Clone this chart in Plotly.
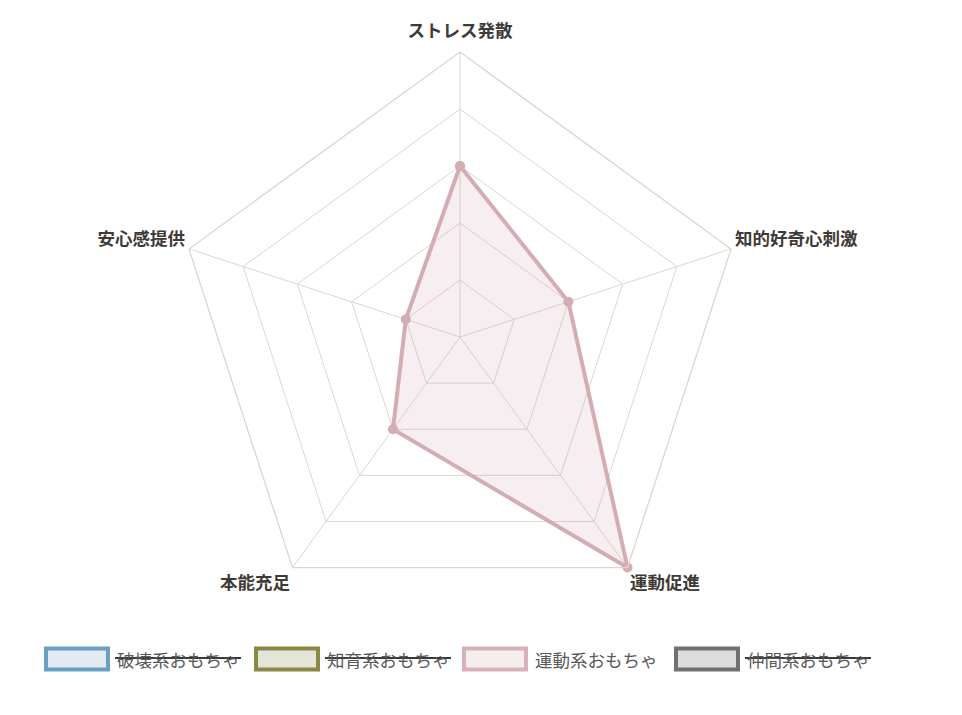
import plotly.graph_objects as go

# axes of the radar
categories = ["ストレス発散", "知的好奇心刺激", "運動促進", "本能充足", "安心感提供"]
# only the visible dataset (運動系おもちゃ) is drawn
undou_values = [3, 2, 5, 2, 1]

# legend entries (hidden ones are struck through, like chart.js)
legend_names = ["破壊系おもちゃ", "知育系おもちゃ", "運動系おもちゃ", "仲間系おもちゃ"]
legend_hidden = [True, True, False, True]
legend_border = ["#6b9fc2", "#8a8845", "#d6b2b7", "#707070"]
legend_fill = ["#e2eaf3", "#e5e4d8", "#f6eeee", "#dcdcdc"]

W, H = 962, 715
OFF = 8  # page body margin
FONT = "Noto Sans CJK JP"
FS = 17.5
GRID = "#ddd6ce"

fig = go.Figure()
fig.add_trace(go.Scatterpolar(
    r=undou_values + [undou_values[0]],
    theta=categories + [categories[0]],
    mode="lines+markers",
    fill="toself",
    fillcolor="rgba(212,172,178,0.2)",
    line=dict(color="#d4adb3", width=4),
    marker=dict(color="#d4adb3", size=10),
    name=legend_names[2],
    showlegend=False,
))

# labels: chart.js puts the top and side ones a bit higher than plotly,
# so nudge them up with a sup baseline shift (font size kept)
lbl = []
for i, c in enumerate(categories):
    if i in (2, 3):
        lbl.append("<b>%s</b>" % c)
    else:
        lbl.append("<sup><span style='font-size:%spx'><b>%s</b></span></sup>" % (FS, c))

# polar area: centre (460, 337), radius 285 px on the page
cx, cy, rad = 460 - OFF, 337 - OFF, 285
fig.update_layout(
    width=W, height=H,
    margin=dict(l=0, r=0, t=0, b=0),
    paper_bgcolor="white",
    font=dict(family=FONT),
    polar=dict(
        domain=dict(x=[(cx - rad) / W, (cx + rad) / W],
                    y=[(H - cy - rad) / H, (H - cy + rad) / H]),
        bgcolor="white",
        gridshape="linear",
        radialaxis=dict(range=[0, 5], dtick=1, showticklabels=False, ticks="",
                        showline=False, gridcolor=GRID, gridwidth=1.3),
        angularaxis=dict(rotation=90, direction="clockwise", ticks="",
                         gridcolor=GRID, gridwidth=1.3, linecolor=GRID, linewidth=1.3,
                         tickfont=dict(family=FONT, size=FS, color="#3e3a36"),
                         categoryarray=categories, categoryorder="array",
                         tickvals=categories, ticktext=lbl),
    ),
    showlegend=False,
)

# hand-made legend at the bottom
box_x = [46, 256, 464, 676]
box_w, box_h, ly = 62, 21, 659
shapes = []
annotations = []
for i, name in enumerate(legend_names):
    x0 = box_x[i] - OFF
    y = ly - OFF
    shapes.append(dict(type="rect", xref="paper", yref="paper",
                       x0=x0 / W, x1=(x0 + box_w) / W,
                       y0=(H - y - box_h / 2) / H, y1=(H - y + box_h / 2) / H,
                       line=dict(color=legend_border[i], width=4),
                       fillcolor=legend_fill[i]))
    tx = x0 + box_w + 7
    annotations.append(dict(xref="paper", yref="paper",
                            x=tx / W, y=(H - y) / H,
                            xanchor="left", yanchor="middle", showarrow=False,
                            text=name, font=dict(family=FONT, size=FS, color="#585858")))
    if legend_hidden[i]:
        # strike-through line, as chart.js draws for hidden datasets
        shapes.append(dict(type="line", xref="paper", yref="paper",
                           x0=tx / W, x1=(tx + 126) / W,
                           y0=(H - y + 1) / H, y1=(H - y + 1) / H,
                           line=dict(color="#3a3a3a", width=2)))
fig.update_layout(shapes=shapes, annotations=annotations)

fig.write_html("out.html")
